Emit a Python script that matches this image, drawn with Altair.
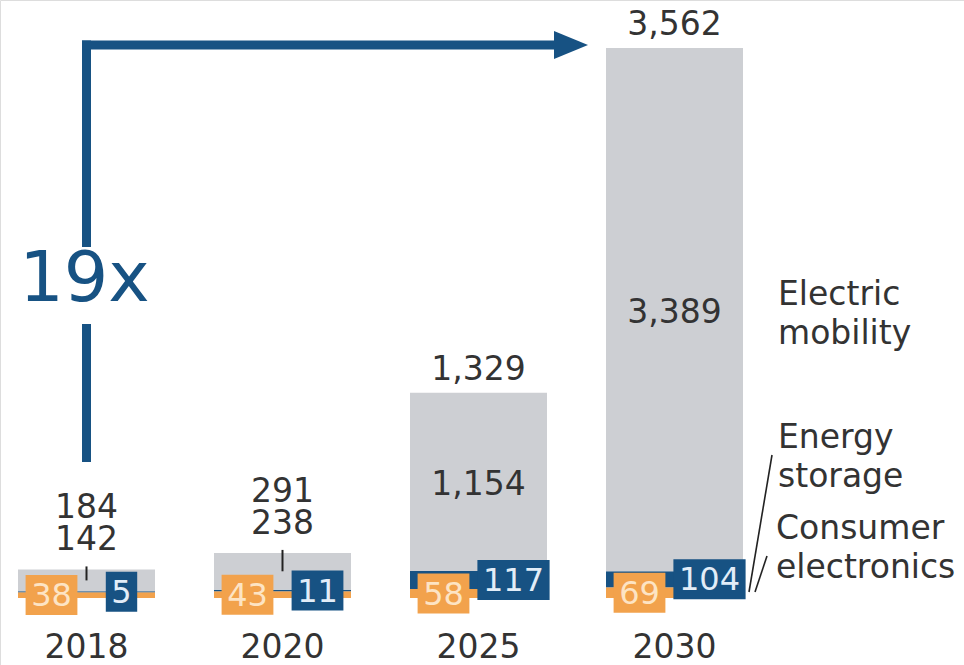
import altair as alt
import pandas as pd

# ---------------- data ----------------
years = ["2018", "2020", "2025", "2030"]
consumer_electronics = [38, 43, 58, 69]
energy_storage = [5, 11, 117, 104]
electric_mobility = [142, 238, 1154, 3389]
totals = [184, 291, 1329, 3562]

df = pd.DataFrame({
    "year": years,
    "idx": list(range(len(years))),
    "ce": consumer_electronics,
    "es": energy_storage,
    "em": electric_mobility,
    "total": totals,
})

# ---------------- layout constants ----------------
W, H = 964, 665
SLOT_PX = 196.0          # pixels between bar centres
X0_PX = 86.5             # pixel centre of first bar
BASE_PX = 598.0          # pixel of value 0
TOP_PX = 48.0            # pixel of largest total
U = max(totals) / (BASE_PX - TOP_PX)   # data units per pixel
HALF = 68.5 / SLOT_PX    # half bar width in slot units
BOX_OFF = 35.0 / SLOT_PX  # label box offset from bar centre
BOX_HALF_H = 20.0 * U

xs = alt.Scale(domain=[-X0_PX / SLOT_PX, (W - X0_PX) / SLOT_PX], nice=False, zero=False)
ys = alt.Scale(domain=[-(H - BASE_PX) * U, BASE_PX * U], nice=False, zero=False)

GRAY = "#cdcfd3"
ORANGE = "#f2a24c"
BLUE = "#175283"
TXT = "#333333"
FONT = "DejaVu Sans"
FS = 33

X = lambda f: alt.X(f, type="quantitative", scale=xs, axis=None)
Y = lambda f: alt.Y(f, type="quantitative", scale=ys, axis=None)

base = alt.Chart(df).transform_calculate(
    xl=f"datum.idx - {HALF}",
    xr=f"datum.idx + {HALF}",
    zero="0",
    c1="datum.ce",
    e1="datum.ce + datum.es",
    m1="datum.ce + datum.es + datum.em",
    cmid="datum.ce / 2",
    emid="datum.ce + datum.es / 2",
    mmid="datum.ce + datum.es + datum.em / 2",
    ocx=f"datum.idx - {BOX_OFF}",
    bcx=f"datum.idx + {BOX_OFF}",
    ow=f"(20.4 * length(toString(datum.ce)) + 11) / {SLOT_PX}",
    bw=f"(20.4 * length(toString(datum.es)) + 11) / {SLOT_PX}",
)

# stacked bars
bar_ce = base.mark_bar(color=ORANGE).encode(x=X("xl"), x2="xr", y=Y("zero"), y2="c1")
bar_es = base.mark_bar(color=BLUE).encode(x=X("xl"), x2="xr", y=Y("c1"), y2="e1")
bar_em = base.mark_bar(color=GRAY).encode(x=X("xl"), x2="xr", y=Y("e1"), y2="m1")

# label boxes
obox = base.transform_calculate(
    x0="datum.ocx - datum.ow / 2", x1="datum.ocx + datum.ow / 2",
    y0=f"datum.cmid - {BOX_HALF_H}", y1=f"datum.cmid + {BOX_HALF_H}",
).mark_rect(color=ORANGE).encode(x=X("x0"), x2="x1", y=Y("y0"), y2="y1")
otext = base.mark_text(font=FONT, fontSize=32, color="#fde4c4", baseline="middle", dy=1).encode(
    x=X("ocx"), y=Y("cmid"), text=alt.Text("ce:Q", format=","))

bbox = base.transform_calculate(
    x0="datum.bcx - datum.bw / 2", x1="datum.bcx + datum.bw / 2",
    y0=f"datum.emid - {BOX_HALF_H}", y1=f"datum.emid + {BOX_HALF_H}",
).mark_rect(color=BLUE).encode(x=X("x0"), x2="x1", y=Y("y0"), y2="y1")
btext = base.mark_text(font=FONT, fontSize=32, color="#e2edf8", baseline="middle", dy=1).encode(
    x=X("bcx"), y=Y("emid"), text=alt.Text("es:Q", format=","))

# value labels: small bars (labels stacked above) and large bars (mobility inside)
small = base.transform_filter("datum.em < 500")
large = base.transform_filter("datum.em >= 500")

small_lbl = small.transform_calculate(
    lbl="[format(datum.total, ','), format(datum.em, ',')]"
).mark_text(font=FONT, fontSize=FS, color=TXT, baseline="middle", dy=-61, lineHeight=32).encode(
    x=X("idx"), y=Y("m1"), text=alt.Text("lbl:N"))
small_tick = small.transform_calculate(t0=f"datum.m1 + {3 * U}").mark_rule(
    color="#222222", strokeWidth=2).encode(x=X("idx"), y=Y("t0"), y2="mmid")

large_total = large.mark_text(font=FONT, fontSize=FS, color=TXT, baseline="middle", dy=-23).encode(
    x=X("idx"), y=Y("m1"), text=alt.Text("total:Q", format=","))
large_em = large.mark_text(font=FONT, fontSize=FS, color=TXT, baseline="middle", dy=3).encode(
    x=X("idx"), y=Y("mmid"), text=alt.Text("em:Q", format=","))

# year labels
year_lbl = base.mark_text(font=FONT, fontSize=FS, color=TXT, baseline="middle").encode(
    x=X("idx"), y=alt.value(648), text="year:N")

# growth arrow
ratio = round(totals[-1] / totals[0])
first = base.transform_filter("datum.idx == 0")
last = base.transform_filter(f"datum.idx == {len(years) - 1}")
ARROW_Y = 45
tip_gap = 18.0 / SLOT_PX
head_len = 34.0 / SLOT_PX

v_top = first.mark_rule(color=BLUE, strokeWidth=9).encode(
    x=X("idx"), y=alt.value(ARROW_Y - 4.5), y2=alt.value(247))
v_bot = first.mark_rule(color=BLUE, strokeWidth=9).encode(
    x=X("idx"), y=alt.value(324), y2=alt.value(462))
growth = first.mark_text(font=FONT, fontSize=70, color=BLUE, baseline="middle", dx=-2).encode(
    x=X("idx"), y=alt.value(280), text=alt.value(f"{ratio}x"))

arrow_h = base.transform_calculate(
    hx0=f"0 - 4.5 / {SLOT_PX}",
    hx1=f"{len(years) - 1} - {HALF} - {tip_gap} - {head_len / 2}",
).transform_filter("datum.idx == 0").mark_rule(color=BLUE, strokeWidth=9).encode(
    x=X("hx0"), x2="hx1", y=alt.value(ARROW_Y))
arrow_head = last.transform_calculate(
    hx=f"datum.idx - {HALF} - {tip_gap} - {head_len / 2}"
).mark_point(shape="M -1 -0.82 L 1 0 L -1 0.82 Z", size=34 * 34, filled=True,
             opacity=1, color=BLUE, strokeWidth=0).encode(x=X("hx"), y=alt.value(ARROW_Y))

# series labels on the right
leg_font = dict(font=FONT, fontSize=FS, color=TXT, align="left", baseline="middle", lineHeight=39)
leg_em = first.mark_text(text=["Electric", "mobility"], **leg_font).encode(
    x=alt.value(778), y=alt.value(295))
leg_es = first.mark_text(text=["Energy", "storage"], **leg_font).encode(
    x=alt.value(778), y=alt.value(438))
leg_ce = first.mark_text(text=["Consumer", "electronics"], **leg_font).encode(
    x=alt.value(776), y=alt.value(529))
lead_es = first.mark_rule(color="#222222", strokeWidth=1.6).encode(
    x=alt.value(772), y=alt.value(455), x2=alt.value(749), y2=alt.value(592))
lead_ce = first.mark_rule(color="#222222", strokeWidth=1.6).encode(
    x=alt.value(767), y=alt.value(556), x2=alt.value(755), y2=alt.value(592))

chart = alt.layer(
    bar_ce, bar_es, bar_em,
    obox, bbox, otext, btext,
    small_tick, small_lbl, large_total, large_em,
    year_lbl,
    v_top, v_bot, arrow_h, arrow_head, growth,
    leg_em, leg_es, leg_ce, lead_es, lead_ce,
).properties(
    width=W, height=H, autosize=alt.AutoSizeParams(type="none"), padding=0,
).configure_view(stroke=None).configure(background="white")

chart.save("out.html", embed_options={"renderer": "svg", "actions": False})
